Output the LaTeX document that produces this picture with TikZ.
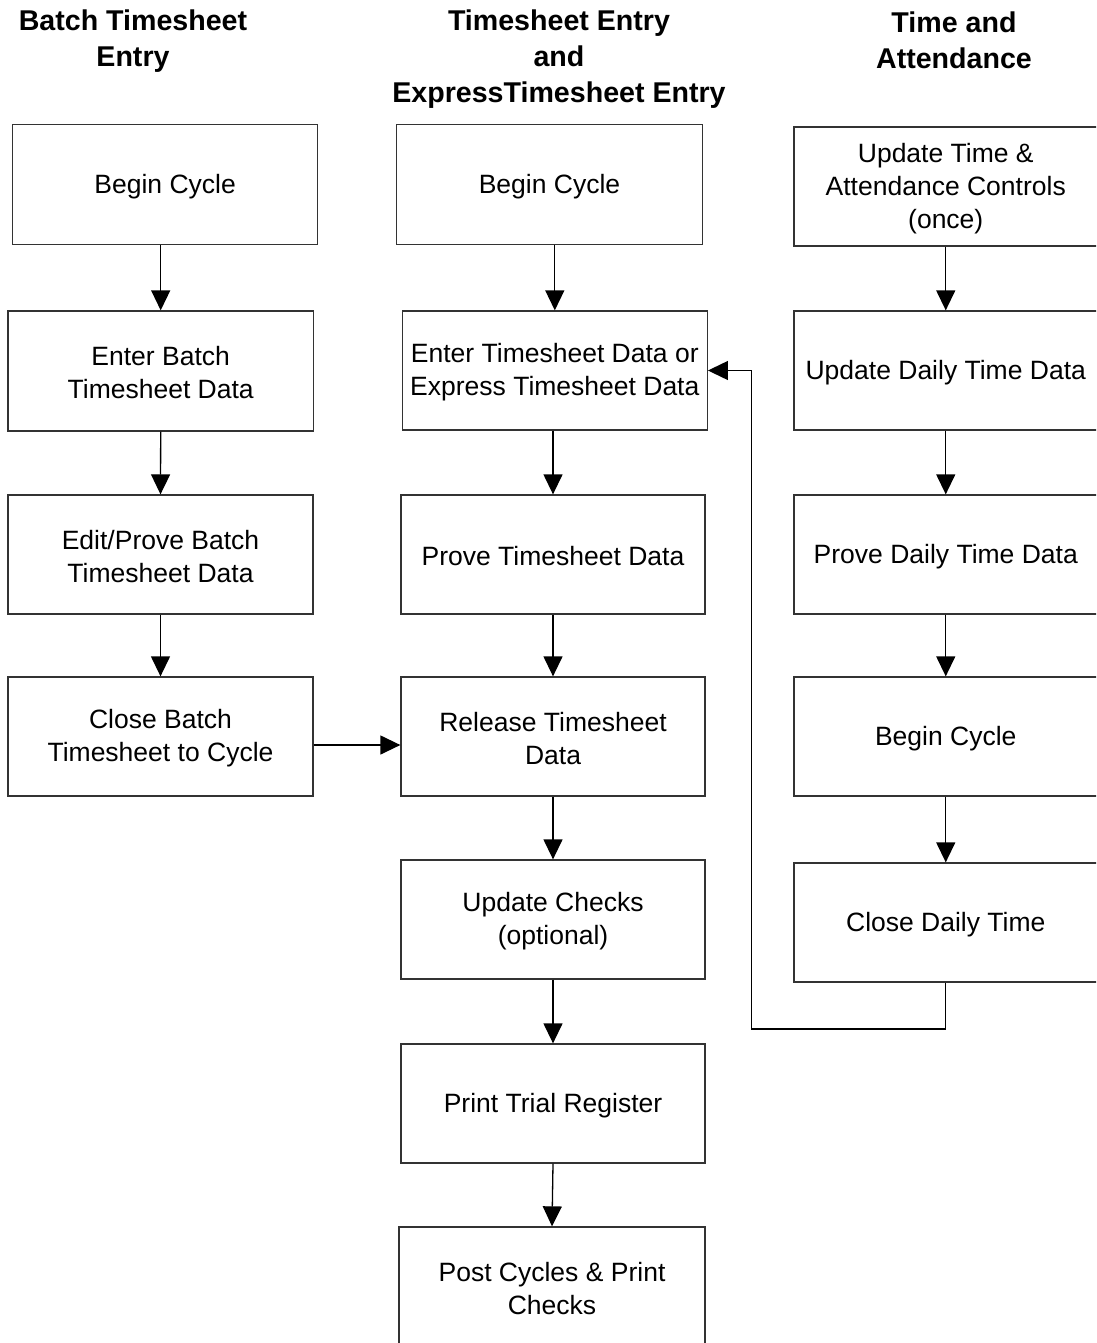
\documentclass[tikz,border=0pt]{standalone}
\usepackage{fontspec}
\setmainfont{Liberation Sans}
\usetikzlibrary{arrows.meta,calc}
\newcommand\tstrut{\rule{0pt}{23pt}}
\begin{document}
\begin{tikzpicture}[x=1pt,y=-1pt,
  box/.style={draw=black!80, line width=1.3pt, inner sep=0pt, align=center,
    font=\fontsize{26.5}{33}\selectfont, fill=white},
  header/.style={inner sep=0pt, align=center, font=\fontsize{28.6}{36}\selectfont\bfseries},
  arr/.style={draw=black, line width=1.3pt, -{Triangle[length=20pt,width=19pt]}}]
\useasboundingbox (0,0) rectangle (1096,1343);
\clip (0,0) rectangle (1096,1343);
% headers
\node[header] (h1) at (133,41) {Batch Timesheet\\Entry};
\node[header] (h2) at (559,59) {Timesheet Entry\\and\\ExpressTimesheet Entry};
\node[header] (h3) at (954,40) {Time and\\Attendance};
% column 1
\node[box, minimum width=305.2pt, minimum height=119.6pt] (c1a) at (165.1,184.5) {\tstrut Begin Cycle};
\node[box, minimum width=305.3pt, minimum height=120pt] (c1b) at (160.7,371) {\tstrut Enter Batch\\Timesheet Data};
\node[box, minimum width=305pt, minimum height=119pt] (c1c) at (160.5,554.5) {\tstrut Edit/Prove Batch\\Timesheet Data};
\node[box, minimum width=305pt, minimum height=119pt] (c1d) at (160.5,736.5) {\tstrut Close Batch\\Timesheet to Cycle};
% column 2
\node[box, minimum width=305.6pt, minimum height=119.6pt] (c2a) at (549.5,184.5) {\tstrut Begin Cycle};
\node[box, minimum width=305pt, minimum height=119pt] (c2b) at (554.8,370.5) {\tstrut Enter Timesheet Data or\\Express Timesheet Data};
\node[box, minimum width=304pt, minimum height=119pt] (c2c) at (553,554.5) {\tstrut Prove Timesheet Data};
\node[box, minimum width=304pt, minimum height=119pt] (c2d) at (553,736.5) {\tstrut Release Timesheet\\Data};
\node[box, minimum width=304pt, minimum height=119pt] (c2e) at (553,919.5) {\tstrut Update Checks\\(optional)};
\node[box, minimum width=304pt, minimum height=119pt] (c2f) at (553,1103.5) {\tstrut Print Trial Register};
\node[box, minimum width=306pt, minimum height=120pt] (c2g) at (552,1287) {\tstrut Post Cycles \& Print\\Checks};
% column 3
\node[box, minimum width=303.5pt, minimum height=119pt] (c3a) at (945.75,186.5) {\tstrut Update Time \&\\Attendance Controls\\(once)};
\node[box, minimum width=303.5pt, minimum height=119pt] (c3b) at (945.75,370.5) {\tstrut Update Daily Time Data};
\node[box, minimum width=303.5pt, minimum height=119pt] (c3c) at (945.75,554.5) {\tstrut Prove Daily Time Data};
\node[box, minimum width=303.5pt, minimum height=119pt] (c3d) at (945.75,736.5) {\tstrut Begin Cycle};
\node[box, minimum width=303.5pt, minimum height=119pt] (c3e) at (945.75,922.5) {\tstrut Close Daily Time};
% arrows column 1
\draw[arr] (c1b.north |- c1a.south) -- (c1b.north);
\draw[arr] (c1b.south) -- (c1c.north);
\draw[arr] (c1c.south) -- (c1d.north);
% arrows column 2
\draw[arr] (c2b.north |- c2a.south) -- (c2b.north);
\draw[arr] (c2c.north |- c2b.south) -- (c2c.north);
\draw[arr] (c2c.south) -- (c2d.north);
\draw[arr] (c2d.south) -- (c2e.north);
\draw[arr] (c2e.south) -- (c2f.north);
\draw[arr] (c2f.south) -- (c2g.north);
% arrows column 3
\draw[arr] (c3a.south) -- (c3b.north);
\draw[arr] (c3b.south) -- (c3c.north);
\draw[arr] (c3c.south) -- (c3d.north);
\draw[arr] (c3d.south) -- (c3e.north);
% cross arrows
\draw[arr] ($(c1d.east)+(0,8.5)$) -- ($(c2d.west)+(0,8.5)$);
\coordinate (fbl) at (751.7,1029);
\draw[arr] (c3e.south) |- (fbl) |- (c2b.east);
\end{tikzpicture}
\end{document}
